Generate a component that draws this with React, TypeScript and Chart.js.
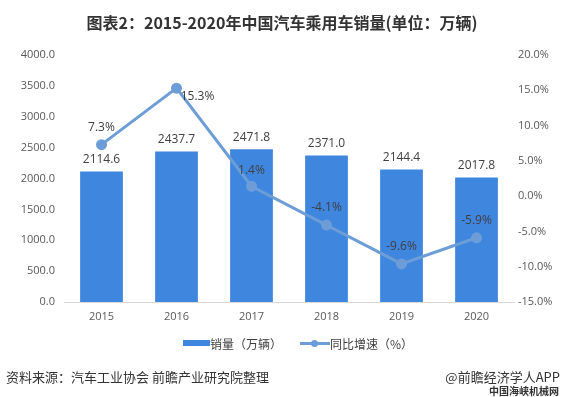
import React, { useEffect, useRef } from "react";
import { Chart, registerables } from "chart.js";

Chart.register(...registerables);

const years = ["2015", "2016", "2017", "2018", "2019", "2020"];
const sales = [2114.6, 2437.7, 2471.8, 2371.0, 2144.4, 2017.8];
const growth = [7.3, 15.3, 1.4, -4.1, -9.6, -5.9];

const titleText = "图表2：2015-2020年中国汽车乘用车销量(单位：万辆)";
const salesLabel = "销量（万辆）";
const growthLabel = "同比增速（%）";
const sourceText = "资料来源：汽车工业协会 前瞻产业研究院整理";
const brandText = "@前瞻经济学人APP";
const siteText = "中国海峡机械网";

const BAR_COLOR = "#3f86df";
const LINE_COLOR = "#6d9dd7";
const LABEL_COLOR = "#404040";
const TICK_COLOR = "#595959";
const NUM_FONT = "'Open Sans', 'Noto Sans', sans-serif";
const CJK_FONT = "'Noto Sans CJK SC', 'Noto Sans', sans-serif";

// label offset (dx, dy) relative to each growth point
const lineLabelOffsets: [number, number][] = [
  [0, -17],
  [21, 8],
  [0, -16],
  [0, -17],
  [0, -17],
  [0, -17],
];

const labelPlugin = {
  id: "valueLabels",
  afterDatasetsDraw(chart: any) {
    const ctx = chart.ctx;
    ctx.save();
    ctx.font = `12px ${NUM_FONT}`;
    ctx.fillStyle = LABEL_COLOR;
    ctx.textAlign = "center";
    ctx.textBaseline = "middle";
    const barMeta = chart.getDatasetMeta(0);
    barMeta.data.forEach((el: any, i: number) => {
      ctx.fillText(sales[i].toFixed(1), el.x, el.y - 12);
    });
    const lineMeta = chart.getDatasetMeta(1);
    lineMeta.data.forEach((el: any, i: number) => {
      const [dx, dy] = lineLabelOffsets[i];
      ctx.fillText(growth[i].toFixed(1) + "%", el.x + dx, el.y + dy);
    });
    ctx.restore();
  },
};

export default function App() {
  const canvasRef = useRef<HTMLCanvasElement>(null);

  useEffect(() => {
    const prevMargin = document.body.style.margin;
    document.body.style.margin = "0";
    const chart = new Chart(canvasRef.current as HTMLCanvasElement, {
      type: "bar",
      data: {
        labels: years,
        datasets: [
          {
            type: "bar",
            label: salesLabel,
            data: sales,
            backgroundColor: BAR_COLOR,
            yAxisID: "y",
            categoryPercentage: 1,
            barPercentage: 0.57,
            order: 2,
          },
          {
            type: "line",
            label: growthLabel,
            data: growth,
            borderColor: LINE_COLOR,
            backgroundColor: LINE_COLOR,
            borderWidth: 3,
            pointRadius: 4,
            pointBackgroundColor: LINE_COLOR,
            pointBorderColor: LINE_COLOR,
            yAxisID: "y1",
            order: 1,
            tension: 0,
          },
        ] as any,
      },
      options: {
        animation: false,
        responsive: false,
        maintainAspectRatio: false,
        layout: { padding: { top: 55, bottom: 0, left: 0, right: 0 } },
        plugins: {
          legend: { display: false },
          title: { display: false },
          tooltip: { enabled: false },
        },
        scales: {
          x: {
            grid: { display: false, drawTicks: false },
            border: { display: true, color: "#d9d9d9", width: 1 },
            ticks: {
              color: TICK_COLOR,
              font: { size: 11, family: NUM_FONT },
              padding: 8,
            },
            afterFit: (scale: any) => {
              scale.height = 95;
            },
          },
          y: {
            position: "left",
            min: 0,
            max: 4000,
            grid: { display: false, drawTicks: false },
            border: { display: false },
            ticks: {
              stepSize: 500,
              color: TICK_COLOR,
              font: { size: 11, family: NUM_FONT },
              padding: 9,
              callback: (v: any) => Number(v).toFixed(1),
            },
            afterFit: (scale: any) => {
              scale.width = 64;
            },
          },
          y1: {
            position: "right",
            min: -15,
            max: 20,
            grid: { display: false, drawTicks: false },
            border: { display: false },
            ticks: {
              stepSize: 5,
              color: TICK_COLOR,
              font: { size: 11, family: NUM_FONT },
              padding: 4,
              callback: (v: any) => Number(v).toFixed(1) + "%",
            },
            afterFit: (scale: any) => {
              scale.width = 50;
            },
          },
        },
      } as any,
      plugins: [labelPlugin],
    });
    return () => {
      chart.destroy();
      document.body.style.margin = prevMargin;
    };
  }, []);

  return (
    <div
      style={{
        position: "fixed",
        left: 0,
        top: 0,
        width: 564,
        height: 397,
        background: "#ffffff",
        overflow: "hidden",
      }}
    >
      <canvas
        ref={canvasRef}
        width={564}
        height={397}
        style={{ position: "absolute", left: 0, top: 0, width: 564, height: 397 }}
      />
      <div
        style={{
          position: "absolute",
          left: 0,
          top: 10,
          width: 564,
          textAlign: "center",
          fontFamily: CJK_FONT,
          fontWeight: "bold",
          fontSize: 16,
          lineHeight: "24px",
          color: "#333333",
        }}
      >
        {titleText}
      </div>
      <div
        style={{
          position: "absolute",
          left: 183,
          top: 334,
          height: 18,
          display: "flex",
          alignItems: "center",
          fontFamily: CJK_FONT,
          fontSize: 12,
          color: LABEL_COLOR,
          whiteSpace: "nowrap",
        }}
      >
        <span style={{ display: "inline-block", width: 27, height: 6, background: BAR_COLOR }} />
        <span>{salesLabel}</span>
        <span style={{ display: "inline-block", position: "relative", width: 30, height: 10, marginLeft: 18 }}>
          <span style={{ position: "absolute", left: 0, top: 3.5, width: 30, height: 3, background: LINE_COLOR }} />
          <span
            style={{
              position: "absolute",
              left: 11,
              top: 1.5,
              width: 7,
              height: 7,
              borderRadius: "50%",
              background: LINE_COLOR,
            }}
          />
        </span>
        <span>{growthLabel}</span>
      </div>
      <div
        style={{
          position: "absolute",
          left: 6,
          top: 368,
          fontFamily: CJK_FONT,
          fontSize: 13,
          lineHeight: "18px",
          color: "#333333",
          whiteSpace: "nowrap",
        }}
      >
        {sourceText}
      </div>
      <div
        style={{
          position: "absolute",
          right: 4,
          top: 368,
          fontFamily: CJK_FONT,
          fontSize: 13,
          lineHeight: "18px",
          color: "#333333",
          whiteSpace: "nowrap",
        }}
      >
        {brandText}
      </div>
      <div
        style={{
          position: "absolute",
          left: 489,
          top: 384,
          fontFamily: CJK_FONT,
          fontSize: 10,
          fontWeight: "bold",
          lineHeight: "13px",
          color: "#333333",
          whiteSpace: "nowrap",
        }}
      >
        {siteText}
      </div>
    </div>
  );
}
